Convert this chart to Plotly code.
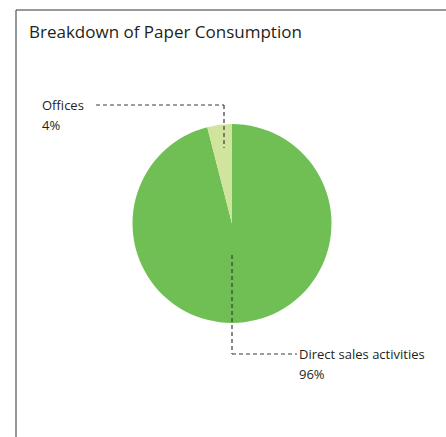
import plotly.graph_objects as go

categories = ["Direct sales activities", "Offices"]
values = [96, 4]
pct_labels = ["96%", "4%"]
colors = ["#70bf55", "#d1e49d"]
title_text = "Breakdown of Paper Consumption"

W, H = 446, 437
def px(x): return x / W
def py(y): return 1 - y / H

cx, cy, r = 232, 223.5, 99.5
FONT = "Open Sans"
TXT = "#231f20"

fig = go.Figure(go.Pie(
    labels=categories, values=values, sort=False, direction="clockwise",
    rotation=0, marker=dict(colors=colors, line=dict(width=0)),
    textinfo="none", hoverinfo="label+percent", showlegend=False,
    domain=dict(x=[px(cx - r), px(cx + r)], y=[py(cy + r), py(cy - r)]),
))

shapes = []
# frame (top and left edges only)
shapes.append(dict(type="line", xref="paper", yref="paper", x0=px(16), y0=py(10), x1=px(446), y1=py(10), line=dict(color="#333333", width=1)))
shapes.append(dict(type="line", xref="paper", yref="paper", x0=px(16), y0=py(10), x1=px(16), y1=py(437), line=dict(color="#333333", width=1)))
# leader lines
dash = dict(color="#3a3a3a", width=1.2, dash="4px,3px")
shapes.append(dict(type="line", xref="paper", yref="paper", x0=px(96), y0=py(105), x1=px(224), y1=py(105), line=dash))
shapes.append(dict(type="line", xref="paper", yref="paper", x0=px(224), y0=py(105), x1=px(224), y1=py(148), line=dash))
shapes.append(dict(type="line", xref="paper", yref="paper", x0=px(232), y0=py(255), x1=px(232), y1=py(354), line=dash))
shapes.append(dict(type="line", xref="paper", yref="paper", x0=px(232), y0=py(354), x1=px(297), y1=py(354), line=dash))

ann = []
ann.append(dict(text=title_text, x=px(27), y=py(32), xref="paper", yref="paper", xanchor="left", yanchor="middle", showarrow=False, font=dict(family=FONT, size=17, color=TXT)))
ann.append(dict(text=categories[1], x=px(40), y=py(105), xref="paper", yref="paper", xanchor="left", yanchor="middle", showarrow=False, font=dict(family=FONT, size=13, color=TXT)))
ann.append(dict(text=pct_labels[1], x=px(40), y=py(125), xref="paper", yref="paper", xanchor="left", yanchor="middle", showarrow=False, font=dict(family=FONT, size=13, color=TXT)))
ann.append(dict(text=categories[0], x=px(297), y=py(354), xref="paper", yref="paper", xanchor="left", yanchor="middle", showarrow=False, font=dict(family=FONT, size=13, color=TXT)))
ann.append(dict(text=pct_labels[0], x=px(297), y=py(374), xref="paper", yref="paper", xanchor="left", yanchor="middle", showarrow=False, font=dict(family=FONT, size=13, color=TXT)))

fig.update_layout(width=W, height=H, margin=dict(l=0, r=0, t=0, b=0),
                  paper_bgcolor="white", plot_bgcolor="white",
                  shapes=shapes, annotations=ann)
fig.write_html("out.html", config=dict(displayModeBar=False, responsive=False),
               post_script="document.documentElement.style.overflow='hidden';document.body.style.margin='0';document.body.style.padding='0';document.body.style.overflow='hidden';")
